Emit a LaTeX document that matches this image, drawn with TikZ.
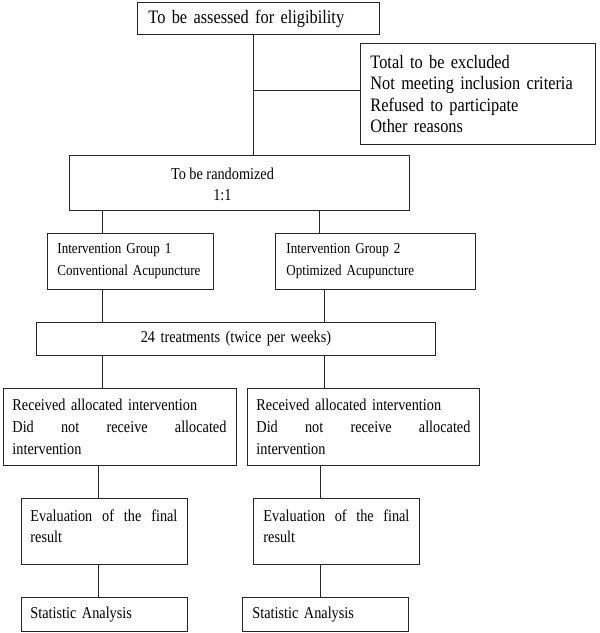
\documentclass[tikz,border=0pt]{standalone}
\usepackage{fontspec}
\setmainfont{Liberation Serif}[FakeStretch=0.86]
\hyphenpenalty=10000
\exhyphenpenalty=10000
\newcommand{\fbig}{\fontsize{19}{21.5}\selectfont}
\newcommand{\fmid}{\fontsize{16.6}{21.8}\selectfont}
\newcommand{\fsml}{\fontsize{15.2}{22}\selectfont}
\begin{document}
\begin{tikzpicture}[x=1pt,y=-1pt]
\tikzset{
  box/.style={draw=black!85, line width=0.9pt, anchor=north west, inner ysep=0pt, align=left},
  conn/.style={draw=black!85, line width=0.9pt},
}
\useasboundingbox (0,0) rectangle (600,633);

% boxes
\node[box, font=\fbig, minimum width=242pt, minimum height=32pt, inner xsep=11pt, text width=220pt] (A) at (137,2) {To be assessed for eligibility};
\node[box, font=\fbig, minimum width=235pt, minimum height=101pt, inner xsep=10pt, text width=215pt] (B) at (360,43)
  {Total to be excluded\\Not meeting inclusion criteria\\Refused to participate\\Other reasons};
\node[box, minimum width=340pt, minimum height=55pt] (C) at (69,155) {};
\node[font=\fmid, align=center, yshift=-1.5pt] (Ct) at ([xshift=-17pt]C.center) {To be randomized\\1:1};
\node[box, font=\fsml, minimum width=166pt, minimum height=56pt, inner xsep=10pt, text width=146pt] (G1) at (47,233)
  {Intervention Group 1\\Conventional Acupuncture};
\node[box, font=\fsml, minimum width=200pt, minimum height=56pt, inner xsep=11pt, text width=178pt] (G2) at (275,233)
  {Intervention Group 2\\Optimized Acupuncture};
\node[box, font=\fmid, align=center, minimum width=399pt, minimum height=33pt, inner xsep=5pt, text width=389pt] (T) at (36,322)
  {24 treatments (twice per weeks)};
\node[box, font=\fmid, minimum width=233pt, minimum height=77pt, inner xsep=9pt, text width=215pt] (R1) at (3,388)
  {Received allocated intervention\\\makebox[214pt][l]{Did\hfill not\hfill receive\hfill allocated}\\intervention};
\node[box, font=\fmid, minimum width=232pt, minimum height=77pt, inner xsep=9pt, text width=214pt] (R2) at (247,388)
  {Received allocated intervention\\\makebox[214pt][l]{Did\hfill not\hfill receive\hfill allocated}\\intervention};
\node[box, font=\fmid, minimum width=166pt, minimum height=66pt, inner xsep=9pt, text width=148pt] (E1) at (21,498)
  {\parbox[c][44pt][t]{147pt}{\makebox[147pt][l]{Evaluation\hfill of\hfill the\hfill final}\\result}};
\node[box, font=\fmid, minimum width=166pt, minimum height=66pt, inner xsep=10pt, text width=146pt] (E2) at (253,498)
  {\parbox[c][44pt][t]{146pt}{\makebox[146pt][l]{Evaluation\hfill of\hfill the\hfill final}\\result}};
\node[box, font=\fmid, minimum width=166pt, minimum height=34pt, inner xsep=9pt, text width=148pt] (S1) at (21,597)
  {Statistic Analysis};
\node[box, font=\fmid, minimum width=166pt, minimum height=34pt, inner xsep=10pt, text width=146pt] (S2) at (242,597)
  {Statistic Analysis};

% connector x positions
\coordinate (xa) at (253,0);
\coordinate (jx) at (253,90);
\coordinate (xl) at (102,0);
\coordinate (xr1) at (319,0);
\coordinate (xr2) at (324,0);
\coordinate (xl2) at (98,0);
\coordinate (xr3) at (320,0);

% connectors
\draw[conn] (A.south -| xa) -- (C.north -| xa);
\draw[conn] (jx) -- (jx -| B.west);
\draw[conn] (C.south -| xl) -- (G1.north -| xl);
\draw[conn] (C.south -| xr1) -- (G2.north -| xr1);
\draw[conn] (G1.south -| xl) -- (T.north -| xl);
\draw[conn] (G2.south -| xr2) -- (T.north -| xr2);
\draw[conn] (T.south -| xl) -- (R1.north -| xl);
\draw[conn] (T.south -| xr2) -- (R2.north -| xr2);
\draw[conn] (R1.south -| xl2) -- (E1.north -| xl2);
\draw[conn] (R2.south -| xr3) -- (E2.north -| xr3);
\draw[conn] (E1.south -| xl2) -- (S1.north -| xl2);
\draw[conn] (E2.south -| xr3) -- (S2.north -| xr3);
\end{tikzpicture}
\end{document}
